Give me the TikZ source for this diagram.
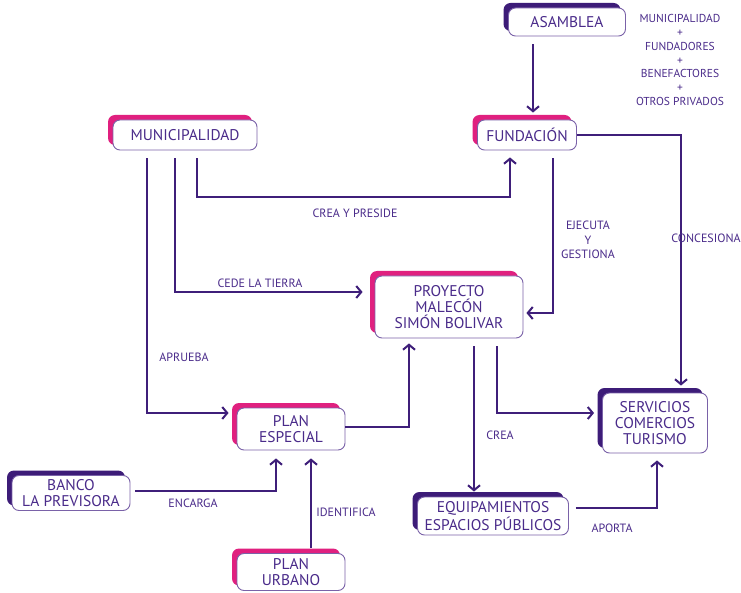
\documentclass[tikz,border=0pt]{standalone}
\usepackage{fontspec}
\setmainfont{PT Sans}
\usetikzlibrary{arrows.meta,shadows,calc}
\definecolor{linec}{HTML}{3F1F7A}
\definecolor{textc}{HTML}{4A2B8A}
\definecolor{borderc}{HTML}{7A62A8}
\definecolor{pinkc}{HTML}{E0207F}
\definecolor{darkc}{HTML}{3D1C78}
\tikzset{
  box/.style={draw=borderc, fill=white, rounded corners=7pt, line width=0.9pt,
    align=center, text=textc, font=\fontsize{15.5}{16}\selectfont, inner sep=0pt},
  pinkbox/.style={box, copy shadow={shadow xshift=-5pt, shadow yshift=5pt, fill=pinkc, draw=none}},
  darkbox/.style={box, copy shadow={shadow xshift=-5pt, shadow yshift=5pt, fill=darkc, draw=none}},
  arr/.style={draw=linec, line width=2pt, -{Straight Barb[length=5pt,width=12pt,line width=2pt]},
    shorten <=8pt, shorten >=7pt},
  lbl/.style={text=textc, font=\fontsize{12}{14.5}\selectfont, align=center, inner sep=0pt},
}
\begin{document}
\begin{tikzpicture}[x=1pt,y=-1pt]
\useasboundingbox (0,0) rectangle (741,593);
\fill[white] (0,0) rectangle (741,593);

\node[darkbox, minimum width=117pt, minimum height=28pt] (asam) at (567,22) {ASAMBLEA};
\node[lbl, font=\fontsize{11.5}{13.7}\selectfont] (miembros) at (680,60) {MUNICIPALIDAD\\+\\FUNDADORES\\+\\BENEFACTORES\\+\\OTROS PRIVADOS};
\node[pinkbox, minimum width=144pt, minimum height=30pt] (muni) at (185,135) {MUNICIPALIDAD};
\node[pinkbox, minimum width=99pt, minimum height=30pt] (fund) at (527,135) {FUNDACIÓN};
\node[pinkbox, minimum width=148pt, minimum height=62pt] (proy) at (449,307) {PROYECTO\\MALECÓN\\SIMÓN BOLIVAR};
\node[darkbox, minimum width=105pt, minimum height=60pt] (serv) at (655,423) {SERVICIOS\\COMERCIOS\\TURISMO};
\node[pinkbox, minimum width=108pt, minimum height=42pt] (plane) at (291,429) {PLAN\\ESPECIAL};
\node[darkbox, minimum width=118pt, minimum height=35pt] (banco) at (71,493) {BANCO\\LA PREVISORA};
\node[darkbox, minimum width=151pt, minimum height=38pt] (equip) at (493,516) {EQUIPAMIENTOS\\ESPACIOS PÚBLICOS};
\node[pinkbox, minimum width=108pt, minimum height=37pt] (planu) at (291,572) {PLAN\\URBANO};

% connectors
\draw[arr] ([xshift=-34pt]asam.south) -- ([xshift=-34pt]asam.south |- fund.north);
\draw[arr] ([xshift=12pt]muni.south) -- ++(0,47) -| ([xshift=-17pt]fund.south);
\draw[arr, shorten >=12pt] ([xshift=-10pt]muni.south) |- ([yshift=15pt]proy.west);
\draw[arr, shorten >=8pt] ([xshift=-38pt]muni.south) |- ([yshift=16pt]plane.west);
\draw[arr, shorten >=3pt] ([xshift=26pt]fund.south) |- ([yshift=-6pt]proy.east);
\draw[arr, shorten <=0pt, shorten >=7pt] (fund.east) -| ([xshift=26pt]serv.north);
\draw[arr, shorten >=5pt] ([xshift=25pt]proy.south) -- ([xshift=25pt]proy.south |- equip.north);
\draw[arr, shorten >=8pt] ([xshift=48pt]proy.south) |- ([yshift=10pt]serv.west);
\draw[arr, shorten <=0pt, shorten >=5pt] ([yshift=2pt]plane.east) -| ([xshift=-40pt]proy.south);
\draw[arr, shorten <=5pt, shorten >=8pt] ([yshift=2pt]banco.east) -| ([xshift=-15pt]plane.south);
\draw[arr, shorten <=5pt, shorten >=8pt] ([xshift=20pt]planu.north) -- ([xshift=20pt]planu.north |- plane.south);
\draw[arr, shorten <=7pt, shorten >=7pt] ([yshift=8pt]equip.east) -| ([xshift=2pt]serv.south);

% labels
\node[lbl] (l1) at (355,213) {CREA Y PRESIDE};
\node[lbl] (l2) at (260,283) {CEDE LA TIERRA};
\node[lbl] (l3) at (184,357) {APRUEBA};
\node[lbl] (l4) at (588,240) {EJECUTA\\Y\\GESTIONA};
\node[lbl] (l5) at (706,238) {CONCESIONA};
\node[lbl] (l6) at (500,435) {CREA};
\node[lbl] (l7) at (193,503) {ENCARGA};
\node[lbl] (l8) at (346,512) {IDENTIFICA};
\node[lbl] (l9) at (612,528) {APORTA};
\end{tikzpicture}
\end{document}
